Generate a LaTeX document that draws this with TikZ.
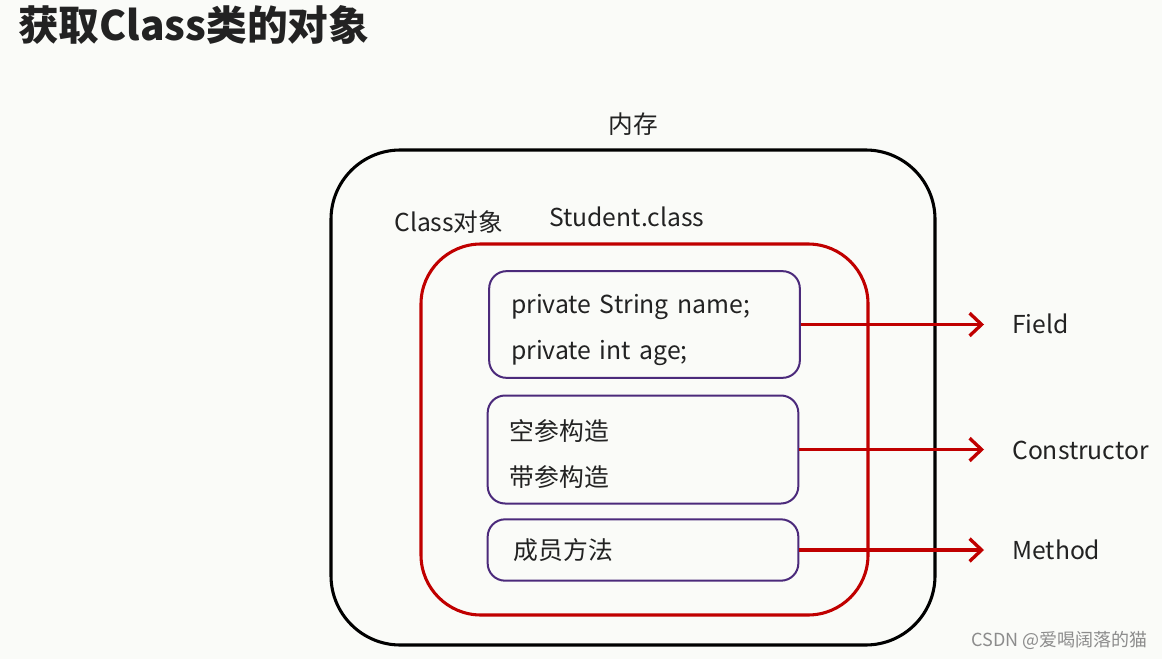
\documentclass[tikz,border=0pt]{standalone}
\usepackage{fontspec}
\setmainfont{Noto Sans CJK SC}
\usetikzlibrary{arrows.meta}
\definecolor{bg}{HTML}{FAFBF8}
\definecolor{redc}{HTML}{C00000}
\definecolor{purp}{HTML}{4B2A7B}
\definecolor{txt}{HTML}{222222}
\tikzset{
  px/.style={x=0.75pt,y=-0.75pt},
  outerbox/.style={draw=black,line width=2.3pt,rounded corners=52pt},
  redbox/.style={draw=redc,line width=2.3pt,rounded corners=45pt},
  membox/.style={draw=purp,line width=1.5pt,rounded corners=13pt,minimum width=233pt,
     text width=200pt,align=left,inner xsep=16pt,text=txt,
     font=\fontsize{18.6}{34.5}\selectfont},
  lbl/.style={text=txt,font=\fontsize{18.5}{22}\selectfont,inner sep=0pt},
  redarrow/.style={draw=redc,line width=2.5pt,-{Straight Barb[length=9pt,width=17pt,line width=2.5pt]}},
}
\begin{document}
\begin{tikzpicture}[px]
\path[use as bounding box,fill=bg] (0,0) rectangle (1162,659);
\node[anchor=west,inner sep=0pt,text=txt,font=\fontsize{30.5}{34}\selectfont\bfseries] (title) at (18,25) {获取Class类的对象};
% outer memory box
\draw[outerbox] (331,150) rectangle (935,645);
\node[lbl] (mem) at (633,124) {内存};
\node[lbl,anchor=west] (clsobj) at (394,222) {Class对象};
\node[lbl,anchor=west] (stud) at (549,217) {Student.class};
% red class box
\draw[redbox] (421,244) rectangle (868,615);
% member boxes
\node[membox,minimum height=80pt] (b1) at (644.5,324.5) {\rule{0pt}{23pt}private String name;\\private int age;};
\node[membox,minimum height=81pt] (b2) at (643,449.5) {\rule{0pt}{22pt}空参构造\\带参构造};
\node[membox,minimum height=46pt,inner xsep=19pt,text width=194pt] (b3) at (643,550) {成员方法};
% labels
\node[lbl,anchor=west] (field) at (1012,324) {Field};
\node[lbl,anchor=west] (ctor) at (1012,450) {Constructor};
\node[lbl,anchor=west] (meth) at (1012,550) {Method};
% arrows
\draw[redarrow,shorten >=21pt] (b1.east) -- (b1.east -| field.west);
\draw[redarrow,shorten >=21pt] (b2.east) -- (b2.east -| ctor.west);
\draw[redarrow,shorten >=21pt] (b3.east) -- (b3.east -| meth.west);
% watermark
\node[anchor=east,inner sep=0pt,text=black!45,font=\fontsize{13.5}{16}\selectfont] (wm) at (1148,640) {CSDN @爱喝阔落的猫};
\end{tikzpicture}
\end{document}
